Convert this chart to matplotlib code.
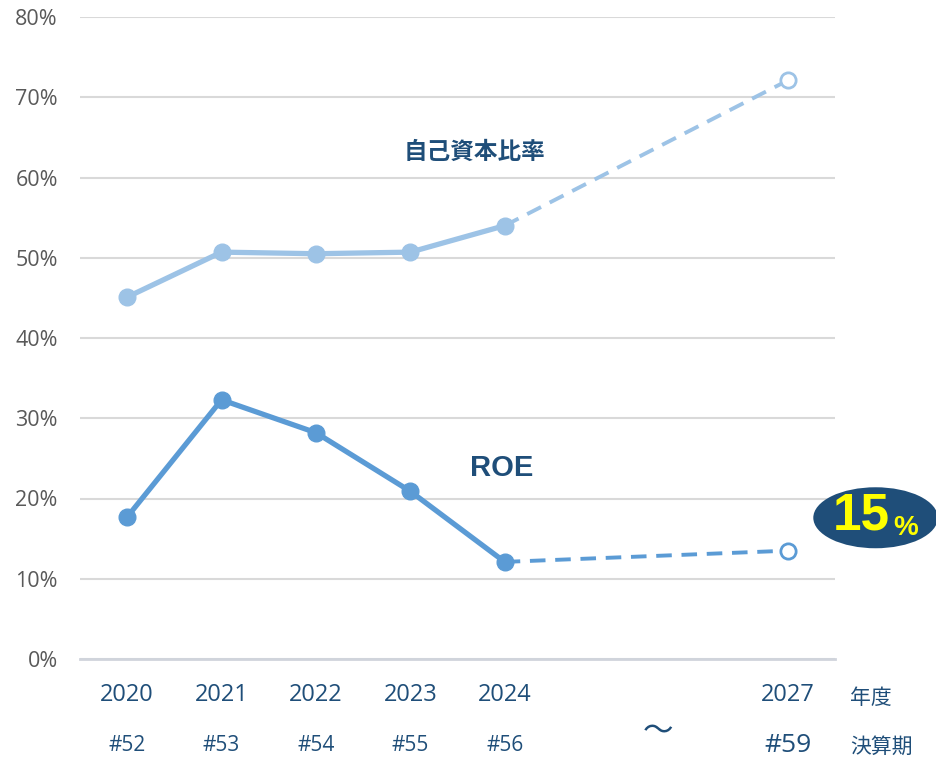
import matplotlib.pyplot as plt
from matplotlib.patches import Ellipse
import numpy as np

plt.rcParams['font.family'] = ['Open Sans', 'Noto Sans CJK JP', 'DejaVu Sans']

# fiscal years, period numbers and values (%)
years = ['2020', '2021', '2022', '2023', '2024', '2027']
periods = ['#52', '#53', '#54', '#55', '#56', '#59']
slots = [0, 1, 2, 3, 4, 7]
equity_ratio = [45.1, 50.7, 50.5, 50.7, 54.0, 72.1]
roe = [17.7, 32.3, 28.2, 20.9, 12.1, 13.5]
roe_target = '15'

navy = '#1F4E79'
light = '#9DC3E6'
mid = '#5B9BD5'

fig = plt.figure(figsize=(9.36, 7.64), dpi=100)
ax = fig.add_axes([80 / 936, (764 - 659) / 764, (835 - 80) / 936, 642 / 764])

ax.set_xlim(-0.5, 7.5)
ax.set_ylim(0, 80)
ax.set_yticks(np.arange(0, 81, 10))
ax.set_yticklabels(['%d%%' % v for v in range(0, 81, 10)], fontsize=15.5, color='#595959')
ax.tick_params(axis='y', length=0, pad=16)
ax.set_xticks([])
ax.grid(axis='y', color='#D9D9D9', linewidth=1.5)
ax.set_axisbelow(True)
for s in ['top', 'right', 'left']:
    ax.spines[s].set_visible(False)
ax.spines['bottom'].set_color('#D0D4DC')
ax.spines['bottom'].set_linewidth(2)

x = np.array(slots)
for vals, col in [(equity_ratio, light), (roe, mid)]:
    # actual results
    ax.plot(x[:5], vals[:5], color=col, linewidth=3.8, marker='o', markersize=12,
            markerfacecolor=col, markeredgecolor=col, zorder=3)
    # plan (dashed to the target year)
    ax.plot(x[4:], vals[4:], color=col, linewidth=2.8, linestyle=(0, (4, 2.5)), zorder=2)
    ax.plot(x[5], vals[5], marker='o', markersize=11, markerfacecolor='white',
            markeredgecolor=col, markeredgewidth=2, zorder=4)

ax.text(3.68, 63.2, '自己資本比率', fontsize=17, fontweight='bold', color=navy,
        ha='center', va='center', family=['Noto Sans CJK JP'])
ax.text(3.97, 23.8, 'ROE', fontsize=21, fontweight='bold', color=navy,
        ha='center', va='center', family=['Liberation Sans'])

# row labels under the axis
for xi, yr, pr in zip(slots, years, periods):
    ax.text(xi, -4.5, yr, fontsize=17, color=navy, ha='center', va='center', clip_on=False)
    ax.text(xi, -10.8, pr, fontsize=19 if yr == '2027' else 15, color=navy,
            ha='center', va='center', clip_on=False)
ax.text(7.88, -4.8, '年度', fontsize=15, color=navy, ha='center', va='center',
        family=['Noto Sans CJK JP'], clip_on=False)
ax.text(7.99, -11.0, '決算期', fontsize=15, color=navy, ha='center', va='center',
        family=['Noto Sans CJK JP'], clip_on=False)
ax.text(5.62, -9.0, '～', fontsize=22, color=navy, ha='center', va='center',
        family=['Noto Sans CJK JP'], clip_on=False)

# target badge
ax.add_patch(Ellipse((7.93, 17.6), 1.32, 7.6, facecolor=navy, edgecolor='none',
                     clip_on=False, zorder=5))
ax.text(7.78, 17.8, roe_target, fontsize=37, fontweight='bold', color='#FFFF00',
        ha='center', va='center', zorder=6, clip_on=False,
        family=['Liberation Sans Narrow', 'Liberation Sans'])
ax.text(8.25, 16.3, '%', fontsize=20, fontweight='bold', color='#FFFF00',
        ha='center', va='center', zorder=6, clip_on=False, family=['Liberation Sans'])

fig.savefig('out.png', dpi=100)
